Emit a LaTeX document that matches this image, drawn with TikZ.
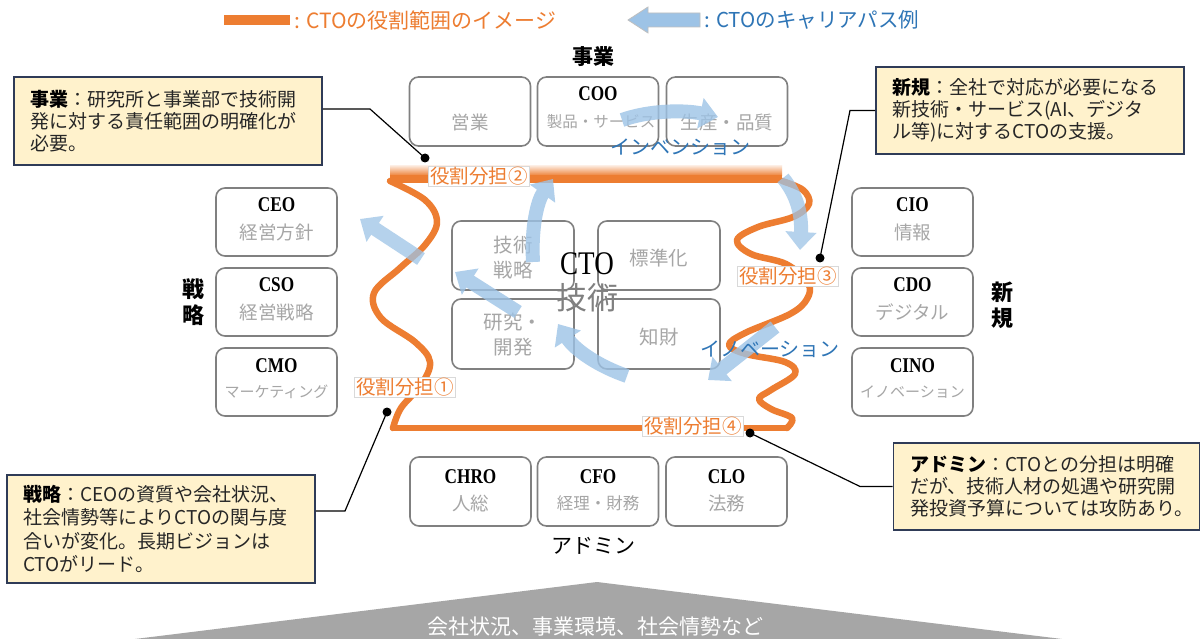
\documentclass[tikz,border=0pt]{standalone}
\usepackage{fontspec}
\setmainfont{Noto Sans CJK JP}
\newfontfamily\serc[FakeStretch=0.82]{Liberation Serif}
\usetikzlibrary{arrows.meta}
\definecolor{orangeC}{HTML}{ED7D31}
\definecolor{blueA}{HTML}{9DC3E6}
\definecolor{blueT}{HTML}{2E75B6}
\definecolor{grayB}{HTML}{808080}
\definecolor{grayT}{HTML}{A6A6A6}
\definecolor{callfill}{HTML}{FFF2CC}
\definecolor{navy}{HTML}{2F3B57}
\definecolor{triGray}{HTML}{A6A6A6}
\tikzset{
  rolebox/.style={draw=grayB, line width=1.6pt, rounded corners=9pt, minimum width=121pt, minimum height=68pt, inner sep=0pt, fill=white},
  ttl/.style={font=\serc\bfseries\fontsize{21}{24}\selectfont, text=black, inner sep=0pt},
  subl/.style={font=\fontsize{18.5}{22}\selectfont, text=grayT, inner sep=0pt},
  subs/.style={font=\fontsize{15}{18}\selectfont, text=grayT, inner sep=0pt},
  cbox/.style={draw=navy, line width=1.6pt, fill=callfill, inner sep=0pt},
  ctext/.style={anchor=west, align=left, inner sep=0pt, text=black!85, font=\fontsize{19}{22}\selectfont},
  rlabel/.style={draw=black!15, line width=0.6pt, fill=white, text=orangeC, font=\fontsize{19.5}{22}\selectfont, inner xsep=1.5pt, inner ysep=1pt},
  wave/.style={draw=orangeC, line width=6.5pt, line cap=round, line join=round},
  barrow/.style={draw=blueA, line width=14pt, -{Triangle[width=30pt,length=18pt]}},
  leader/.style={draw=black, line width=1.2pt},
  dotc/.style={fill=black}
}
\begin{document}
\begin{tikzpicture}[x=1pt,y=-1pt]
\useasboundingbox (0,0) rectangle (1200,639);
\fill[white] (0,0) rectangle (1200,639);

% bottom triangle
\fill[triGray] (135,639) -- (597,582) -- (1062,639) -- cycle;
\node[text=white, font=\fontsize{21}{24}\selectfont, inner sep=0pt] (env) at (595,627) {会社状況、事業環境、社会情勢など};

% legend
\fill[orangeC] (224,15) rectangle (290,25);
\node[anchor=west, text=orangeC, font=\fontsize{21}{24}\selectfont, inner sep=0pt] (lgO) at (294,20) {: CTOの役割範囲のイメージ};
\filldraw[fill=blueA, draw=black!25, line width=0.8pt] (700,13) -- (648,13) -- (648,7) -- (628,20) -- (648,33) -- (648,27) -- (700,27) -- cycle;
\node[anchor=west, text=blueT, font=\fontsize{20.5}{24}\selectfont, inner sep=0pt] (lgB) at (704,20) {: CTOのキャリアパス例};

% group labels
\node[font=\bfseries\fontsize{21}{24}\selectfont, inner sep=0pt] (gJ) at (593,57) {事業};
\node[font=\fontsize{21}{24}\selectfont, inner sep=0pt] (gA) at (593,546) {アドミン};
\node[font=\bfseries\fontsize{22}{26}\selectfont, align=center, inner sep=0pt] (gS) at (193,302) {戦\\略};
\node[font=\bfseries\fontsize{22}{26}\selectfont, align=center, inner sep=0pt] (gN) at (1002,305) {新\\規};

% top row
\node[rolebox, minimum height=69pt] (eig) at (470,111.5) {};
\node[subl] (eigS) at (470,122) {営業};
\node[rolebox, minimum height=69pt] (coo) at (598,111.5) {};
\node[ttl] (cooT) at (598,94) {COO};
\node[subs, font=\fontsize{15.5}{18}\selectfont] (cooS) at (601,122) {製品・サービス};
\node[rolebox, minimum height=69pt] (sei) at (727,111.5) {};
\node[subl] (seiS) at (727,122) {生産・品質};

% left column
\node[rolebox] (ceo) at (276.5,222) {};
\node[ttl] (ceoT) at (276.5,205) {CEO};
\node[subl] (ceoS) at (276.5,232) {経営方針};
\node[rolebox] (cso) at (276.5,302) {};
\node[ttl] (csoT) at (276.5,285) {CSO};
\node[subl] (csoS) at (276.5,312) {経営戦略};
\node[rolebox] (cmo) at (276.5,382) {};
\node[ttl] (cmoT) at (276.5,366) {CMO};
\node[subs] (cmoS) at (276.5,392) {マーケティング};

% right column
\node[rolebox] (cio) at (912.5,222) {};
\node[ttl] (cioT) at (912.5,205) {CIO};
\node[subl] (cioS) at (912.5,232) {情報};
\node[rolebox] (cdo) at (912.5,302) {};
\node[ttl] (cdoT) at (912.5,285) {CDO};
\node[subl] (cdoS) at (912.5,312) {デジタル};
\node[rolebox] (cino) at (912.5,382) {};
\node[ttl] (cinoT) at (912.5,366) {CINO};
\node[subs] (cinoS) at (912.5,392) {イノベーション};

% bottom row
\node[rolebox, minimum height=69pt] (chro) at (470.5,491.5) {};
\node[ttl] (chroT) at (470.5,477) {CHRO};
\node[subl] (chroS) at (470.5,503) {人総};
\node[rolebox, minimum height=69pt] (cfo) at (598,491.5) {};
\node[ttl] (cfoT) at (598,477) {CFO};
\node[subs, font=\fontsize{16.5}{18}\selectfont] (cfoS) at (598,503) {経理・財務};
\node[rolebox, minimum height=69pt] (clo) at (726.5,491.5) {};
\node[ttl] (cloT) at (726.5,477) {CLO};
\node[subl] (cloS) at (726.5,503) {法務};

% center boxes
\node[rolebox, minimum width=122pt, minimum height=69pt] (senr) at (513,255.5) {};
\node[subl, align=center, font=\fontsize{19.5}{25}\selectfont] (senrS) at (513,258) {技術\\戦略};
\node[rolebox, minimum width=122pt, minimum height=69pt] (hyo) at (659,255.5) {};
\node[subl, font=\fontsize{19.5}{22}\selectfont] (hyoS) at (659,258) {標準化};
\node[rolebox, minimum width=122pt, minimum height=70pt] (ken) at (513,334) {};
\node[subl, align=center, font=\fontsize{19.5}{25}\selectfont] (kenS) at (513,335) {研究・\\開発};
\node[rolebox, minimum width=122pt, minimum height=70pt] (chi) at (659,334) {};
\node[subl, font=\fontsize{19.5}{22}\selectfont] (chiS) at (659,337) {知財};

% orange role scope
\shade[top color=orangeC!20, bottom color=orangeC] (390,166) rectangle (782,176);
\fill[orangeC] (390,175.5) rectangle (782,183);
\draw[wave] plot[smooth, tension=0.6] coordinates {(390,181) (425,200) (437,222) (425,245) (400,268) (374,293) (381,318) (415,342) (430,362) (421,385) (401,408) (393,428)};
\draw[wave] (393,428) -- (787,428);
\draw[wave] plot[smooth, tension=0.6] coordinates {(782,181) (803,190) (809,204) (793,217) (758,227) (737,240) (751,254) (786,264) (808,283) (807,299) (790,314) (745,333) (729,345) (746,354) (785,362) (795,374) (771,390) (759,399) (771,409) (792,418) (787,428)};

% blue career-path arrows
\begin{scope}[transparency group, opacity=0.8]
\draw[barrow] (622,120) .. controls (650,110) and (685,110) .. (718,117);
\end{scope}
\begin{scope}[transparency group, opacity=0.8]
\draw[barrow] (533,262) .. controls (531,225) and (538,200) .. (553,179);
\end{scope}
\begin{scope}[transparency group, opacity=0.75]
\draw[barrow] (421,259) -- (360,219);
\end{scope}
\begin{scope}[transparency group, opacity=0.8]
\draw[barrow] (518,312) -- (455,272);
\end{scope}
\begin{scope}[transparency group, opacity=0.8]
\draw[barrow] (627,376) .. controls (598,366) and (575,350) .. (558,324);
\end{scope}
\begin{scope}[transparency group, opacity=0.75]
\draw[barrow] (783,178) .. controls (797,195) and (802,215) .. (800,250);
\end{scope}
\begin{scope}[transparency group, opacity=0.8]
\draw[barrow] (775,327) -- (708,380);
\end{scope}

% center title
\node[font=\serc\fontsize{33}{36}\selectfont, inner sep=0pt] (cto) at (587,264) {CTO};
\node[font=\fontsize{31}{34}\selectfont, text=grayB, inner sep=0pt] (tech) at (587,298) {技術};

% arrow texts
\node[text=blueT, font=\fontsize{20}{24}\selectfont, inner sep=0pt] (inv) at (680,147) {インベンション};
\node[text=blueT, font=\fontsize{20}{24}\selectfont, inner sep=0pt] (inno) at (770,349) {イノベーション};

% role labels
\node[rlabel] (r1) at (405,387) {役割分担①};
\node[rlabel] (r2) at (479,176) {役割分担②};
\node[rlabel] (r3) at (788,276) {役割分担③};
\node[rlabel] (r4) at (693,426) {役割分担④};

% callouts
\node[cbox, minimum width=308pt, minimum height=88pt] (cTLbox) at (168,121) {};
\node[ctext] (cTL) at (30,121) {{\color{black}\bfseries 事業}：研究所と事業部で技術開\\発に対する責任範囲の明確化が\\必要。};
\node[cbox, minimum width=308pt, minimum height=87pt] (cTRbox) at (1030,110.5) {};
\node[ctext] (cTR) at (892,110.5) {{\color{black}\bfseries 新規}：全社で対応が必要になる\\新技術・サービス(AI、デジタ\\ル等)に対するCTOの支援。};
\node[cbox, minimum width=308pt, minimum height=108pt] (cBLbox) at (161,529) {};
\node[ctext, font=\fontsize{19}{23.5}\selectfont] (cBL) at (23,529) {{\color{black}\bfseries 戦略}：CEOの資質や会社状況、\\社会情勢等によりCTOの関与度\\合いが変化。長期ビジョンは\\CTOがリード。};
\node[cbox, minimum width=306pt, minimum height=87pt] (cBRbox) at (1046.5,486.5) {};
\node[ctext] (cBR) at (910,486.5) {{\color{black}\bfseries アドミン}：CTOとの分担は明確\\だが、技術人材の処遇や研究開\\発投資予算については攻防あり。};

% leaders
\coordinate (dTL) at (425,158);
\coordinate (bTL) at (370,109);
\draw[leader] ([yshift=12pt]cTLbox.east) -- (bTL) -- (dTL);
\fill[dotc] (dTL) circle (4.5);
\coordinate (dTR) at (820,258);
\coordinate (bTR) at (850,110.5);
\draw[leader] (cTRbox.west) -- (bTR) -- (dTR);
\fill[dotc] (dTR) circle (4.5);
\coordinate (dBL) at (387,412);
\coordinate (bBL) at (345,511);
\draw[leader] ([yshift=18pt]cBLbox.east) -- (bBL) -- (dBL);
\fill[dotc] (dBL) circle (4.5);
\coordinate (dBR) at (750,433);
\coordinate (bBR) at (860,486.5);
\draw[leader] (cBRbox.west) -- (bBR) -- (dBR);
\fill[dotc] (dBR) circle (4.5);
\end{tikzpicture}
\end{document}
